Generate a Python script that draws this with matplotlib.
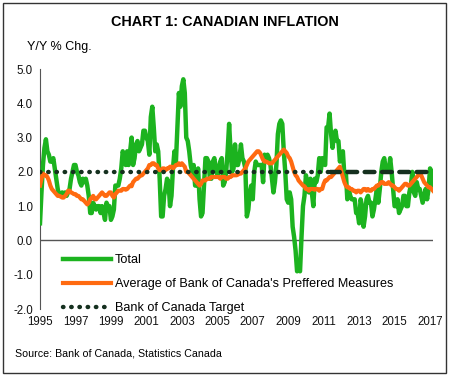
import numpy as np
import matplotlib
matplotlib.use("Agg")
import matplotlib.pyplot as plt
from matplotlib.patches import Rectangle

plt.rcParams["font.family"] = ["Liberation Sans", "DejaVu Sans"]

# monthly, Jan 1995 - Mar 2017
total = [
    0.5, 1.4, 2.2, 2.7, 2.95, 2.6, 2.5, 2.3, 2.3, 2.4, 2.1, 1.8,  # 1995
    1.5, 1.3, 1.3, 1.4, 1.3, 1.4, 1.3, 1.4, 1.5, 1.8, 2.0, 2.2,  # 1996
    2.2, 2.0, 1.9, 1.7, 1.6, 1.8, 1.7, 1.8, 1.6, 1.3, 0.8, 0.8,  # 1997
    1.1, 1.0, 0.9, 1.0, 1.0, 0.8, 1.0, 0.8, 0.6, 1.1, 1.0, 1.0,  # 1998
    0.6, 0.7, 0.9, 1.6, 1.6, 1.6, 1.8, 2.1, 2.6, 2.4, 2.2, 2.6,  # 1999
    2.2, 2.6, 3.0, 2.2, 2.4, 2.8, 2.9, 2.6, 2.7, 2.8, 3.2, 3.2,  # 2000
    3.0, 2.9, 2.5, 3.6, 3.9, 3.3, 2.6, 2.8, 2.6, 1.8, 0.7, 0.7,  # 2001
    1.3, 1.5, 1.8, 1.7, 1.0, 1.3, 2.1, 2.6, 2.3, 3.3, 4.3, 3.9,  # 2002
    4.5, 4.7, 4.3, 3.0, 2.9, 2.6, 2.2, 2.0, 2.2, 1.6, 1.6, 2.1,  # 2003
    1.2, 0.7, 0.8, 1.6, 2.4, 2.4, 2.3, 1.8, 1.8, 2.3, 2.4, 2.1,  # 2004
    1.9, 2.1, 2.3, 2.4, 1.6, 1.7, 2.0, 2.6, 3.4, 2.6, 2.0, 2.1,  # 2005
    2.8, 2.2, 2.2, 2.4, 2.8, 2.4, 2.3, 2.1, 0.7, 0.9, 1.4, 1.6,  # 2006
    1.2, 2.0, 2.3, 2.2, 2.2, 2.2, 2.2, 1.7, 2.5, 2.4, 2.5, 2.4,  # 2007
    2.2, 1.8, 1.4, 1.7, 2.2, 3.1, 3.4, 3.5, 3.4, 2.6, 2.0, 1.2,  # 2008
    1.1, 1.4, 1.2, 0.4, 0.1, -0.3, -0.9, -0.8, -0.9, 0.1, 1.0, 1.3,  # 2009
    1.9, 1.6, 1.4, 1.8, 1.4, 1.0, 1.8, 1.7, 1.9, 2.4, 2.0, 2.4,  # 2010
    2.3, 2.2, 3.3, 3.3, 3.7, 3.1, 2.7, 3.1, 3.2, 2.9, 2.9, 2.3,  # 2011
    2.5, 2.6, 1.9, 2.0, 1.2, 1.5, 1.3, 1.2, 1.2, 1.2, 0.8, 0.8,  # 2012
    0.5, 1.2, 1.0, 0.4, 0.7, 1.2, 1.3, 1.1, 1.1, 0.7, 0.9, 1.2,  # 2013
    1.5, 1.1, 1.5, 2.0, 2.3, 2.4, 2.1, 2.1, 2.0, 2.4, 2.0, 1.5,  # 2014
    1.0, 1.0, 1.2, 0.8, 0.9, 1.0, 1.3, 1.3, 1.0, 1.0, 1.4, 1.6,  # 2015
    2.0, 1.4, 1.3, 1.7, 1.5, 1.5, 1.3, 1.1, 1.3, 1.5, 1.2, 1.5,  # 2016
    2.1, 2.0, 1.6,  # 2017
]

core_avg = [
    1.6, 1.8, 1.95, 1.9, 1.9, 1.85, 1.75, 1.6, 1.5, 1.45, 1.4, 1.35,  # 1995
    1.3, 1.3, 1.28, 1.25, 1.25, 1.3, 1.35, 1.45, 1.45, 1.4, 1.38, 1.35,  # 1996
    1.35, 1.3, 1.3, 1.25, 1.2, 1.2, 1.15, 1.1, 1.05, 1.1, 1.2, 1.25,  # 1997
    1.3, 1.2, 1.2, 1.25, 1.3, 1.35, 1.4, 1.35, 1.3, 1.3, 1.35, 1.4,  # 1998
    1.4, 1.3, 1.25, 1.35, 1.4, 1.45, 1.45, 1.45, 1.5, 1.5, 1.48, 1.5,  # 1999
    1.55, 1.6, 1.58, 1.7, 1.75, 1.8, 1.8, 1.85, 1.9, 1.9, 1.95, 2.0,  # 2000
    2.05, 2.1, 2.2, 2.2, 2.25, 2.25, 2.2, 2.2, 2.1, 2.05, 2.05, 2.1,  # 2001
    2.1, 2.05, 2.1, 2.1, 2.15, 2.15, 2.1, 2.15, 2.2, 2.2, 2.25, 2.2,  # 2002
    2.25, 2.2, 2.15, 2.0, 2.0, 1.95, 1.9, 1.85, 1.8, 1.75, 1.7, 1.65,  # 2003
    1.6, 1.65, 1.75, 1.75, 1.75, 1.8, 1.8, 1.8, 1.85, 1.85, 1.85, 1.85,  # 2004
    1.85, 1.85, 1.8, 1.85, 1.85, 1.85, 1.8, 1.8, 1.85, 1.85, 1.9, 1.9,  # 2005
    1.9, 1.9, 1.92, 1.95, 1.95, 2.0, 2.05, 2.1, 2.2, 2.3, 2.35, 2.4,  # 2006
    2.45, 2.5, 2.55, 2.6, 2.6, 2.55, 2.45, 2.35, 2.3, 2.3, 2.28, 2.25,  # 2007
    2.25, 2.25, 2.3, 2.35, 2.4, 2.45, 2.5, 2.55, 2.6, 2.65, 2.6, 2.55,  # 2008
    2.45, 2.4, 2.3, 2.15, 2.0, 1.9, 1.85, 1.75, 1.7, 1.65, 1.6, 1.58,  # 2009
    1.5, 1.5, 1.45, 1.5, 1.5, 1.5, 1.48, 1.5, 1.5, 1.45, 1.5, 1.5,  # 2010
    1.65, 1.75, 1.75, 1.8, 1.85, 1.85, 1.9, 1.95, 2.0, 2.05, 2.1, 2.15,  # 2011
    2.0, 1.85, 1.7, 1.6, 1.55, 1.55, 1.5, 1.5, 1.45, 1.45, 1.4, 1.45,  # 2012
    1.45, 1.4, 1.45, 1.5, 1.5, 1.45, 1.5, 1.45, 1.45, 1.5, 1.5, 1.55,  # 2013
    1.6, 1.6, 1.65, 1.7, 1.7, 1.65, 1.65, 1.65, 1.7, 1.65, 1.6, 1.6,  # 2014
    1.55, 1.5, 1.5, 1.45, 1.5, 1.55, 1.6, 1.65, 1.65, 1.6, 1.6, 1.65,  # 2015
    1.7, 1.75, 1.8, 1.85, 1.9, 1.95, 1.9, 1.8, 1.7, 1.65, 1.6, 1.55,  # 2016
    1.55, 1.5, 1.45,  # 2017
]

target_rate = 2.0
year_ticks = list(range(1995, 2018, 2))
y_ticks = [-2.0, -1.0, 0.0, 1.0, 2.0, 3.0, 4.0, 5.0]

dates = 1995 + np.arange(len(total)) / 12.0
target = np.full(len(total), target_rate)
split = 196  # target line turns from dots into dashes about here in the original

fig = plt.figure(figsize=(4.5, 3.76), dpi=100)
ax = fig.add_axes([40 / 450, 1 - 309 / 376, 393 / 450, 240 / 376])

green = "#1cb31f"
orange = "#ff6a10"
dark = "#15301f"
dots = (0, (0.1, 1.75))

ax.plot(dates, total, color=green, lw=3.2, label="Total", zorder=3)
ax.plot(dates, core_avg, color=orange, lw=3.0,
        label="Average of Bank of Canada's Preffered Measures", zorder=4)
ax.plot(dates[:split + 1], target[:split + 1], color=dark, lw=3.2,
        linestyle=dots, dash_capstyle="round",
        label="Bank of Canada Target", zorder=5)
ax.plot(dates[split:], target[split:], color=dark, lw=3.2,
        linestyle=(0, (2.2, 1.7)), dash_capstyle="round", zorder=5)

ax.axhline(0, color="#555555", lw=1.0, zorder=2)
ax.set_xlim(1995, dates[-1])
ax.set_ylim(-2, 5)
ax.set_yticks(y_ticks)
ax.set_yticklabels([f"{v:.1f}" for v in y_ticks])
ax.set_xticks(year_ticks)
ax.set_xticklabels([str(y) for y in year_ticks])
ax.tick_params(length=0, labelsize=8.3, colors="#111111")
ax.tick_params(axis="x", pad=5)
ax.tick_params(axis="y", pad=5)
for s in ["top", "right", "bottom"]:
    ax.spines[s].set_visible(False)
ax.spines["left"].set_color("#555555")
ax.patch.set_alpha(0)

leg = ax.legend(loc="lower left", bbox_to_anchor=(0.03, -0.07), frameon=False,
                fontsize=9.1, handlelength=3.8, handletextpad=0.3, labelspacing=0.95)
leg.legend_handles[2].set_linestyle(dots)

fig.text(0.5, 1 - 22 / 376, "CHART 1: CANADIAN INFLATION", ha="center", va="center",
         fontsize=10.4, fontweight="bold")
fig.text(27 / 450, 1 - 47 / 376, "Y/Y % Chg.", ha="left", va="center", fontsize=9)
fig.text(15 / 450, 1 - 353 / 376, "Source: Bank of Canada, Statistics Canada",
         ha="left", va="center", fontsize=7.7)

fig.patches.append(Rectangle((3 / 450, 3 / 376), 443 / 450, 370 / 376, transform=fig.transFigure,
                             fill=False, edgecolor="#333333", lw=1.0))

fig.savefig("out.png", dpi=100)
